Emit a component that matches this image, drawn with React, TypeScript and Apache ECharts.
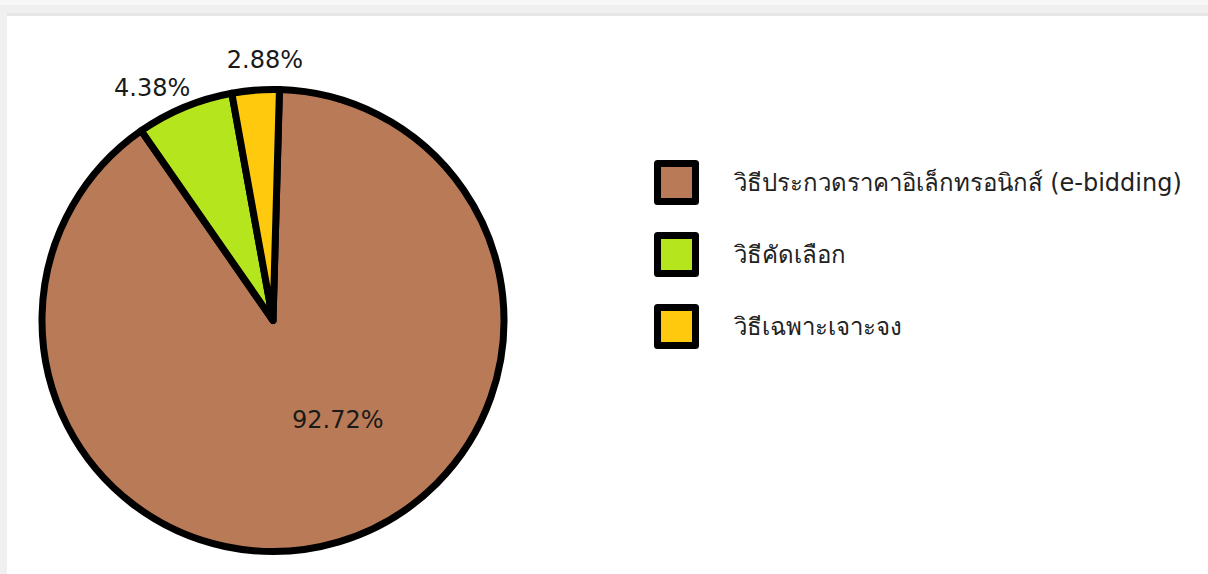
import React, { useEffect, useRef } from "react";
import * as echarts from "echarts";

// Categories (legend names)
const categories = [
  "วิธีประกวดราคาอิเล็กทรอนิกส์ (e-bidding)",
  "วิธีคัดเลือก",
  "วิธีเฉพาะเจาะจง",
];
// Slice sizes as drawn in the picture (percent of the circle)
const sliceShares = [89.9, 6.8, 3.3];
// Printed label texts
const shareLabels = ["92.72%", "4.38%", "2.88%"];
const sliceColors = ["#B97A57", "#B5E61D", "#FFC90E"];

export default function App() {
  const ref = useRef<HTMLDivElement>(null);

  useEffect(() => {
    if (!ref.current) return;
    const chart = echarts.init(ref.current, null, { renderer: "svg" });
    const font = "'DejaVu Sans', 'Noto Sans', sans-serif";
    const labelShifts: Record<number, [number, number]> = {
      0: [31, -14],
      1: [18, 10],
      2: [50, 2],
    };
    chart.setOption({
      animation: false,
      backgroundColor: "#ffffff",
      graphic: [
        { type: "rect", shape: { x: 0, y: 0, width: 1208, height: 5 }, style: { fill: "#f7f7f7" }, silent: true },
        { type: "rect", shape: { x: 0, y: 5, width: 1208, height: 8 }, style: { fill: "#efefef" }, silent: true },
        { type: "rect", shape: { x: 7, y: 13, width: 1201, height: 3 }, style: { fill: "#e6e6e6" }, silent: true },
        { type: "rect", shape: { x: 0, y: 13, width: 7, height: 561 }, style: { fill: "#f0f0f0" }, silent: true },
      ],
      legend: {
        orient: "vertical",
        left: 649,
        top: 155,
        icon: "rect",
        itemWidth: 38,
        itemHeight: 38,
        itemGap: 27,
        itemStyle: { borderColor: "#000000", borderWidth: 7 },
        textStyle: {
          fontSize: 24,
          color: "#222222",
          fontFamily: font,
          padding: [0, 0, 0, 33],
        },
        data: categories,
      },
      series: [
        {
          type: "pie",
          center: [273, 320.5],
          radius: 231,
          startAngle: 88.4,
          clockwise: true,
          avoidLabelOverlap: false,
          itemStyle: { borderColor: "#000000", borderWidth: 7 },
          labelLine: { show: false, length: 32, length2: 0 },
          emphasis: { disabled: true },
          labelLayout: (p: any) => {
            const s = labelShifts[p.dataIndex] || [0, 0];
            return { dx: s[0], dy: s[1] };
          },
          data: categories.map((name, i) => ({
            name,
            value: sliceShares[i],
            itemStyle: { color: sliceColors[i] },
            label: {
              show: true,
              position: i === 0 ? "inside" : "outside",
              formatter: shareLabels[i],
              fontSize: 24,
              color: "#1a1a1a",
              fontFamily: font,
              distanceToLabelLine: 0,
            },
          })),
        },
      ],
    });
    return () => chart.dispose();
  }, []);

  return (
    <div
      ref={ref}
      style={{ position: "fixed", left: 0, top: 0, width: 1208, height: 574 }}
    />
  );
}
